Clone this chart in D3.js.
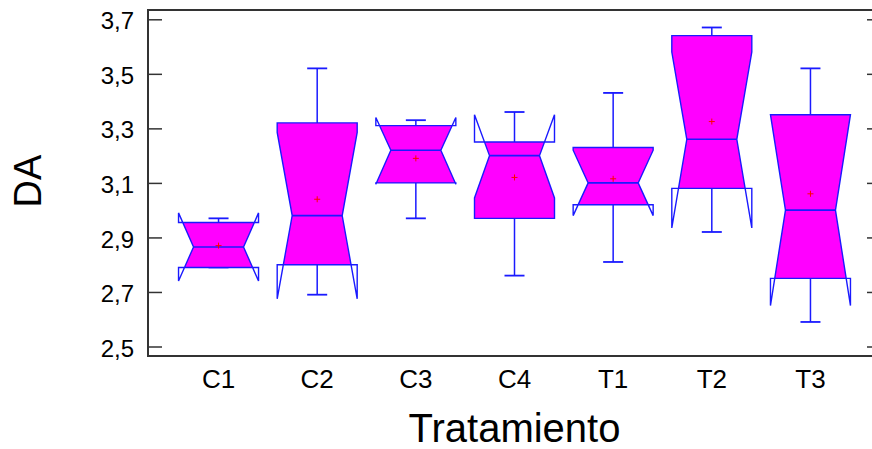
<!DOCTYPE html>
<html>
<head>
<meta charset="utf-8">
<script src="https://cdn.jsdelivr.net/npm/d3@7"></script>
<style>
  body { margin: 0; background: #fff; }
  text { font-family: "Liberation Sans", Arial, sans-serif; fill: #000; }
</style>
</head>
<body>
<div id="chart"></div>
<script>

// values
var categories = ["C1", "C2", "C3", "C4", "T1", "T2", "T3"];
var whiskerHi  = [2.97, 3.52, 3.33, 3.36, 3.43, 3.67, 3.52];
var q3         = [2.955, 3.32, 3.31, 3.25, 3.23, 3.64, 3.35];
var medians    = [2.865, 2.98, 3.22, 3.20, 3.10, 3.26, 3.00];
var q1         = [2.79, 2.80, 3.10, 2.97, 3.02, 3.08, 2.75];
var whiskerLo  = [2.79, 2.69, 2.97, 2.76, 2.81, 2.92, 2.59];
var means      = [2.87, 3.04, 3.19, 3.12, 3.115, 3.325, 3.06];
var notchHi    = [2.99, 3.285, 3.34, 3.35, 3.22, 3.58, 3.35];
var notchLo    = [2.74, 2.675, 3.095, 3.045, 2.98, 2.935, 2.65];

var yTicks      = [2.5, 2.7, 2.9, 3.1, 3.3, 3.5, 3.7];
var yTickLabels = ["2,5", "2,7", "2,9", "3,1", "3,3", "3,5", "3,7"];

var width = 872, height = 449;
var frame = {left: 148, right: 881, top: 10, bottom: 356};

var svg = d3.select("#chart").append("svg")
  .attr("width", width)
  .attr("height", height);

var x = d3.scalePoint()
  .domain(categories)
  .range([frame.left, frame.right])
  .padding(0.715);

var y = d3.scaleLinear()
  .domain([2.5, 3.7])
  .range([346.5, 19.3]);

var boxHalf = 40, notchHalf = 25, capHalf = 10;

var boxes = categories.map(function(c, i) {
  return {cat: c, hi: whiskerHi[i], q3: q3[i], med: medians[i], q1: q1[i],
          lo: whiskerLo[i], mean: means[i], nHi: notchHi[i], nLo: notchLo[i]};
});

function notchPath(d) {
  var cx = x(d.cat);
  var L = cx - boxHalf, R = cx + boxHalf;
  var pts = [
    [L, y(d.q3)], [L, y(d.nHi)], [cx - notchHalf, y(d.med)], [L, y(d.nLo)], [L, y(d.q1)],
    [R, y(d.q1)], [R, y(d.nLo)], [cx + notchHalf, y(d.med)], [R, y(d.nHi)], [R, y(d.q3)]
  ];
  return "M" + pts.join("L") + "Z";
}

var defs = svg.append("defs");
boxes.forEach(function(d, i) {
  defs.append("clipPath").attr("id", "clip" + i)
    .append("rect")
      .attr("x", x(d.cat) - boxHalf - 2)
      .attr("y", y(d.q3))
      .attr("width", boxHalf * 2 + 4)
      .attr("height", y(d.q1) - y(d.q3));
});

var g = svg.selectAll("g.box")
  .data(boxes)
  .enter().append("g")
    .attr("class", "box");

// whiskers
g.append("line")
  .attr("x1", function(d) { return x(d.cat); })
  .attr("x2", function(d) { return x(d.cat); })
  .attr("y1", function(d) { return y(d.q3); })
  .attr("y2", function(d) { return y(d.hi); })
  .attr("stroke", "#1a1aff").attr("stroke-width", 1.5);
g.append("line")
  .attr("x1", function(d) { return x(d.cat); })
  .attr("x2", function(d) { return x(d.cat); })
  .attr("y1", function(d) { return y(d.q1); })
  .attr("y2", function(d) { return y(d.lo); })
  .attr("stroke", "#1a1aff").attr("stroke-width", 1.5);
// caps
g.append("line")
  .attr("x1", function(d) { return x(d.cat) - capHalf; })
  .attr("x2", function(d) { return x(d.cat) + capHalf; })
  .attr("y1", function(d) { return y(d.hi); })
  .attr("y2", function(d) { return y(d.hi); })
  .attr("stroke", "#1a1aff").attr("stroke-width", 1.8);
g.append("line")
  .attr("x1", function(d) { return x(d.cat) - capHalf; })
  .attr("x2", function(d) { return x(d.cat) + capHalf; })
  .attr("y1", function(d) { return y(d.lo); })
  .attr("y2", function(d) { return y(d.lo); })
  .attr("stroke", "#1a1aff").attr("stroke-width", 1.8);

// filled body, only between the quartiles
g.append("path")
  .attr("d", notchPath)
  .attr("clip-path", function(d, i) { return "url(#clip" + i + ")"; })
  .attr("fill", "#ff00ff")
  .attr("stroke", "none");

// outline incl. notch flares
g.append("path")
  .attr("d", notchPath)
  .attr("fill", "none")
  .attr("stroke", "#1a1aff")
  .attr("stroke-width", 1.4)
  .attr("stroke-linejoin", "miter");

// median
g.append("line")
  .attr("x1", function(d) { return x(d.cat) - notchHalf; })
  .attr("x2", function(d) { return x(d.cat) + notchHalf; })
  .attr("y1", function(d) { return y(d.med); })
  .attr("y2", function(d) { return y(d.med); })
  .attr("stroke", "#1a1aff").attr("stroke-width", 1.6);

// mean marker
g.append("path")
  .attr("d", function(d) {
    var cx = x(d.cat), cy = y(d.mean);
    return "M" + (cx - 3) + "," + cy + "H" + (cx + 3) + "M" + cx + "," + (cy - 3) + "V" + (cy + 3);
  })
  .attr("stroke", "#ff0000").attr("stroke-width", 1);

// axes
var yAxis = d3.axisLeft(y)
  .tickValues(yTicks)
  .tickFormat(function(d, i) { return yTickLabels[i]; })
  .tickSize(-14)
  .tickPadding(14);

var ya = svg.append("g")
  .attr("transform", "translate(" + frame.left + ",0)")
  .call(yAxis);
ya.select(".domain").remove();
ya.selectAll(".tick line").attr("stroke", "#333").attr("stroke-width", 1.5);
ya.selectAll(".tick text")
  .attr("font-size", 24)
  .attr("dy", "0.4em")
  .style("font-family", "Liberation Sans, Arial, sans-serif")
  .attr("fill", "#000");

var yr = svg.append("g")
  .attr("transform", "translate(" + frame.right + ",0)")
  .call(d3.axisRight(y).tickValues(yTicks).tickSize(-14).tickFormat(""));
yr.select(".domain").remove();
yr.selectAll(".tick line").attr("stroke", "#333").attr("stroke-width", 1.5);

// frame
svg.append("rect")
  .attr("x", frame.left)
  .attr("y", frame.top)
  .attr("width", frame.right - frame.left)
  .attr("height", frame.bottom - frame.top)
  .attr("fill", "none")
  .attr("stroke", "#333")
  .attr("stroke-width", 2);

// category labels
svg.selectAll("text.cat")
  .data(categories)
  .enter().append("text")
    .attr("class", "cat")
    .attr("x", function(d) { return x(d); })
    .attr("y", 388)
    .attr("text-anchor", "middle")
    .attr("font-size", 26)
    .text(function(d) { return d; });

svg.append("text")
  .attr("x", x("C4"))
  .attr("y", 442)
  .attr("text-anchor", "middle")
  .attr("font-size", 40)
  .text("Tratamiento");

svg.append("text")
  .attr("transform", "translate(41,181) rotate(-90)")
  .attr("text-anchor", "middle")
  .attr("font-size", 38)
  .text("DA");

</script>
</body>
</html>
